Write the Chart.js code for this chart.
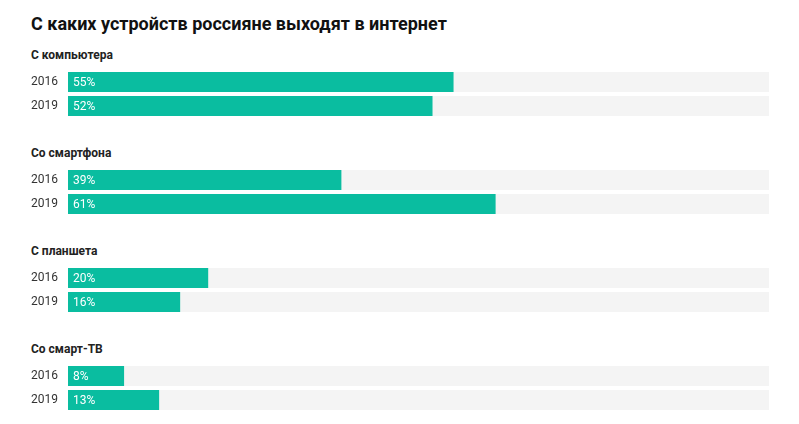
<!DOCTYPE html>
<html>
<head>
<meta charset="utf-8">
<script src="https://cdn.jsdelivr.net/npm/chart.js@4/dist/chart.umd.min.js"></script>
<style>
  body { margin: 0; background: #fff; font-family: Roboto, sans-serif; }
  #wrap { position: relative; width: 799px; height: 424px; overflow: hidden; }
  .title { position: absolute; left: 31px; top: 13px; font-size: 18px; font-weight: 700; color: #111; line-height: 22px; white-space: nowrap; }
  .glabel { position: absolute; left: 31px; font-size: 12px; font-weight: 700; color: #222; line-height: 14px; white-space: nowrap; }
  canvas { position: absolute; left: 0; }
</style>
</head>
<body>
<div id="wrap">
  <div class="title">С каких устройств россияне выходят в интернет</div>
</div>
<script>
const groups = ['С компьютера', 'Со смартфона', 'С планшета', 'Со смарт-ТВ'];
const years = ['2016', '2019'];
const values2016 = [55, 39, 20, 8];
const values2019 = [52, 61, 16, 13];
const maxValue = 100;

const barColor = '#0abda0';
const trackColor = '#f4f4f4';

const valueLabels = {
    id: 'valueLabels',
    afterDatasetsDraw(chart) {
        const ctx = chart.ctx;
        const meta = chart.getDatasetMeta(0);
        ctx.save();
        ctx.font = '12px Roboto';
        ctx.fillStyle = '#fff';
        ctx.textAlign = 'left';
        ctx.textBaseline = 'middle';
        meta.data.forEach((bar, i) => {
            ctx.fillText(chart.data.datasets[0].data[i] + '%', bar.base + 5, bar.y + 1);
        });
        ctx.restore();
    }
};

const wrap = document.getElementById('wrap');

groups.forEach((name, k) => {
    const top = 98 * k;

    const label = document.createElement('div');
    label.className = 'glabel';
    label.style.top = (48 + top) + 'px';
    label.textContent = name;
    wrap.appendChild(label);

    const canvas = document.createElement('canvas');
    canvas.width = 799;
    canvas.height = 48;
    canvas.style.top = (70 + top) + 'px';
    canvas.style.width = '799px';
    canvas.style.height = '48px';
    wrap.appendChild(canvas);

    new Chart(canvas, {
        type: 'bar',
        data: {
            labels: years,
            datasets: [
                { data: [values2016[k], values2019[k]], backgroundColor: barColor },
                { data: years.map(() => maxValue), backgroundColor: trackColor }
            ]
        },
        options: {
            indexAxis: 'y',
            responsive: false,
            animation: false,
            events: [],
            layout: { padding: { left: 31, right: 30, top: 0, bottom: 0 } },
            datasets: {
                bar: { grouped: false, categoryPercentage: 1, barPercentage: 20 / 24, borderWidth: 0 }
            },
            scales: {
                x: { display: false, min: 0, max: maxValue },
                y: {
                    grid: { display: false },
                    border: { display: false },
                    afterFit: (scale) => {
                        scale.width = 37;
                        scale.paddingTop = 0;
                        scale.paddingBottom = 0;
                    },
                    ticks: {
                        crossAlign: 'far',
                        padding: 0,
                        color: '#333',
                        font: { family: 'Roboto', size: 12 }
                    }
                }
            },
            plugins: {
                legend: { display: false },
                tooltip: { enabled: false }
            }
        },
        plugins: [valueLabels]
    });
});
</script>
</body>
</html>
